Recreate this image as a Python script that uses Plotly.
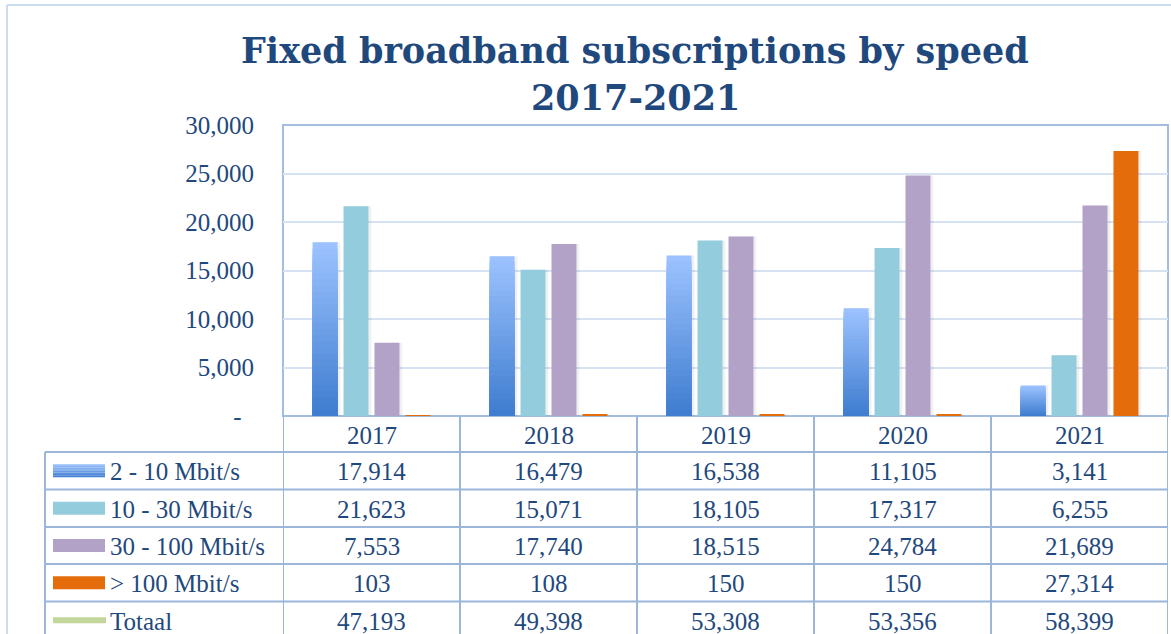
import plotly.graph_objects as go

# ---------------- data ----------------
years = ["2017", "2018", "2019", "2020", "2021"]
series_names = ["2 - 10 Mbit/s", "10 - 30 Mbit/s", "30 - 100 Mbit/s", "> 100 Mbit/s"]
s_2_10 = [17914, 16479, 16538, 11105, 3141]
s_10_30 = [21623, 15071, 18105, 17317, 6255]
s_30_100 = [7553, 17740, 18515, 24784, 21689]
s_100_plus = [103, 108, 150, 150, 27314]
totaal = [47193, 49398, 53308, 53356, 58399]
total_name = "Totaal"
y_tickvals = [0, 5000, 10000, 15000, 20000, 25000, 30000]
y_ticktext = ["-\u00a0\u00a0", "5,000", "10,000", "15,000", "20,000", "25,000", "30,000"]
title_lines = ["Fixed broadband subscriptions by speed", "2017-2021"]

# ---------------- style ----------------
W, H = 1171, 634
PL, PR, PT, PB = 283, 1168, 125, 416
TXT = "#1F497D"
GRID = "#D6E2F1"
BOX = "#A3BDDD"
TBL = "#9BB6D9"
OUTER = "#CCDCEF"
C_TEAL = "#93CDDD"
C_PURP = "#B3A2C7"
C_ORNG = "#E46C0A"
C_TOT = "#C3D69B"
SHADOW = "rgba(90,90,90,0.09)"
GRAD_TOP = (157, 195, 255)
GRAD_BOT = (62, 124, 207)
SERIF = "Liberation Serif"
FS = 25


def px_x(px):
    return (px - PL) / (PR - PL)


def px_y(py):
    return (PB - py) / (PB - PT)


def mix(t):
    r = [round(GRAD_TOP[i] + (GRAD_BOT[i] - GRAD_TOP[i]) * t) for i in range(3)]
    return f"rgb({r[0]},{r[1]},{r[2]})"


slot = 0.175
bw = 0.141
offsets = [-2 * slot + i * slot + (slot - bw) / 2 for i in range(4)]
sh_off = 0.016

fig = go.Figure()

all_series = [s_2_10, s_10_30, s_30_100, s_100_plus]
for vals, off in zip(all_series, offsets):
    fig.add_trace(go.Bar(x=years, y=vals, offset=off + sh_off, width=bw,
                         marker=dict(color=SHADOW, line=dict(width=0)),
                         showlegend=False, hoverinfo="skip"))

N = 28
for k in range(N):
    frac = 1 - k / N
    fig.add_trace(go.Bar(
        x=years, y=[v * frac for v in s_2_10], offset=offsets[0], width=bw,
        marker=dict(color=mix((k + 0.5) / N), line=dict(width=0)),
        showlegend=False, hoverinfo="skip" if k else None,
        name=series_names[0]))

for vals, col, off, nm in [(s_10_30, C_TEAL, offsets[1], series_names[1]),
                           (s_30_100, C_PURP, offsets[2], series_names[2]),
                           (s_100_plus, C_ORNG, offsets[3], series_names[3])]:
    fig.add_trace(go.Bar(x=years, y=vals, offset=off, width=bw,
                         marker=dict(color=col, line=dict(width=0)),
                         showlegend=False, name=nm))

shapes = []
annotations = []

shapes.append(dict(type="line", xref="paper", yref="paper", x0=px_x(7), x1=px_x(W + 5),
                   y0=px_y(5), y1=px_y(5), line=dict(color=OUTER, width=2)))
shapes.append(dict(type="line", xref="paper", yref="paper", x0=px_x(7), x1=px_x(7),
                   y0=px_y(5), y1=px_y(H + 5), line=dict(color=OUTER, width=2)))

shapes.append(dict(type="rect", xref="paper", yref="paper", x0=0, x1=1, y0=0, y1=1,
                   line=dict(color=BOX, width=2), layer="below"))

row_tops = [416, 452, 489.5, 527, 564, 601.5, 639]
for i in range(len(years) + 1):
    shapes.append(dict(type="line", xref="x", yref="paper", x0=i - 0.5, x1=i - 0.5,
                       y0=px_y(416), y1=px_y(H + 10), line=dict(color=TBL, width=2)))
shapes.append(dict(type="line", xref="paper", yref="paper", x0=px_x(45), x1=px_x(45),
                   y0=px_y(452), y1=px_y(H + 10), line=dict(color=TBL, width=2)))
for r in row_tops[1:]:
    shapes.append(dict(type="line", xref="paper", yref="paper", x0=px_x(45), x1=1,
                       y0=px_y(r), y1=px_y(r), line=dict(color=TBL, width=2)))

for i, yr in enumerate(years):
    annotations.append(dict(x=i, y=px_y((row_tops[0] + row_tops[1]) / 2 + 1), xref="x", yref="paper",
                            text=yr, showarrow=False, font=dict(family=SERIF, size=FS, color=TXT),
                            xanchor="center", yanchor="middle"))

rows = [s_2_10, s_10_30, s_30_100, s_100_plus, totaal]
labels = series_names + [total_name]
for r, (vals, lab) in enumerate(zip(rows, labels)):
    yc = (row_tops[r + 1] + row_tops[r + 2]) / 2
    for i, v in enumerate(vals):
        annotations.append(dict(x=i, y=px_y(yc + 1), xref="x", yref="paper",
                                text=f"{v:,}", showarrow=False,
                                font=dict(family=SERIF, size=FS, color=TXT),
                                xanchor="center", yanchor="middle"))
    annotations.append(dict(x=px_x(108), y=px_y(yc + 1), xref="paper", yref="paper",
                            text=lab, showarrow=False,
                            font=dict(family=SERIF, size=FS, color=TXT),
                            xanchor="left", yanchor="middle"))
    if r == 0:
        nb = 8
        for b in range(nb):
            t0 = yc - 6.5 + 13 * b / nb
            t1 = yc - 6.5 + 13 * (b + 1) / nb
            shapes.append(dict(type="rect", xref="paper", yref="paper", x0=px_x(53), x1=px_x(105),
                               y0=px_y(t0), y1=px_y(t1), fillcolor=mix((b + 0.5) / nb),
                               line=dict(width=0)))
    elif r in (1, 2, 3):
        col = [C_TEAL, C_PURP, C_ORNG][r - 1]
        shapes.append(dict(type="rect", xref="paper", yref="paper", x0=px_x(53), x1=px_x(105),
                           y0=px_y(yc - 6.5), y1=px_y(yc + 6.5), fillcolor=col,
                           line=dict(width=0)))
    else:
        shapes.append(dict(type="line", xref="paper", yref="paper", x0=px_x(53), x1=px_x(106),
                           y0=px_y(yc), y1=px_y(yc), line=dict(color=C_TOT, width=6)))

for txt, base in zip(title_lines, [64, 111]):
    annotations.append(dict(x=px_x(635), y=px_y(base), xref="paper", yref="paper",
                            text=f"<b>{txt}</b>", showarrow=False,
                            font=dict(family="DejaVu Serif", size=35, color=TXT),
                            xanchor="center", yanchor="bottom", yshift=-9))

fig.update_layout(
    width=W, height=H, autosize=False,
    margin=dict(l=PL, r=W - PR, t=PT, b=H - PB, pad=0),
    paper_bgcolor="white", plot_bgcolor="white",
    barmode="overlay",
    showlegend=False,
    shapes=shapes, annotations=annotations,
    xaxis=dict(type="category", range=[-0.5, 4.5], showticklabels=False, showgrid=False,
               zeroline=False, showline=False, fixedrange=True),
    yaxis=dict(range=[0, 30000], tickvals=y_tickvals, ticktext=y_ticktext,
               showgrid=True, gridcolor=GRID, gridwidth=2, zeroline=False, showline=False,
               tickfont=dict(family=SERIF, size=FS, color=TXT), ticks="",
               ticklabelstandoff=28, fixedrange=True),
    font=dict(family=SERIF, color=TXT),
)

fig.write_html("out.html", config={"displayModeBar": False},
               post_script="document.body.style.margin='0';")
